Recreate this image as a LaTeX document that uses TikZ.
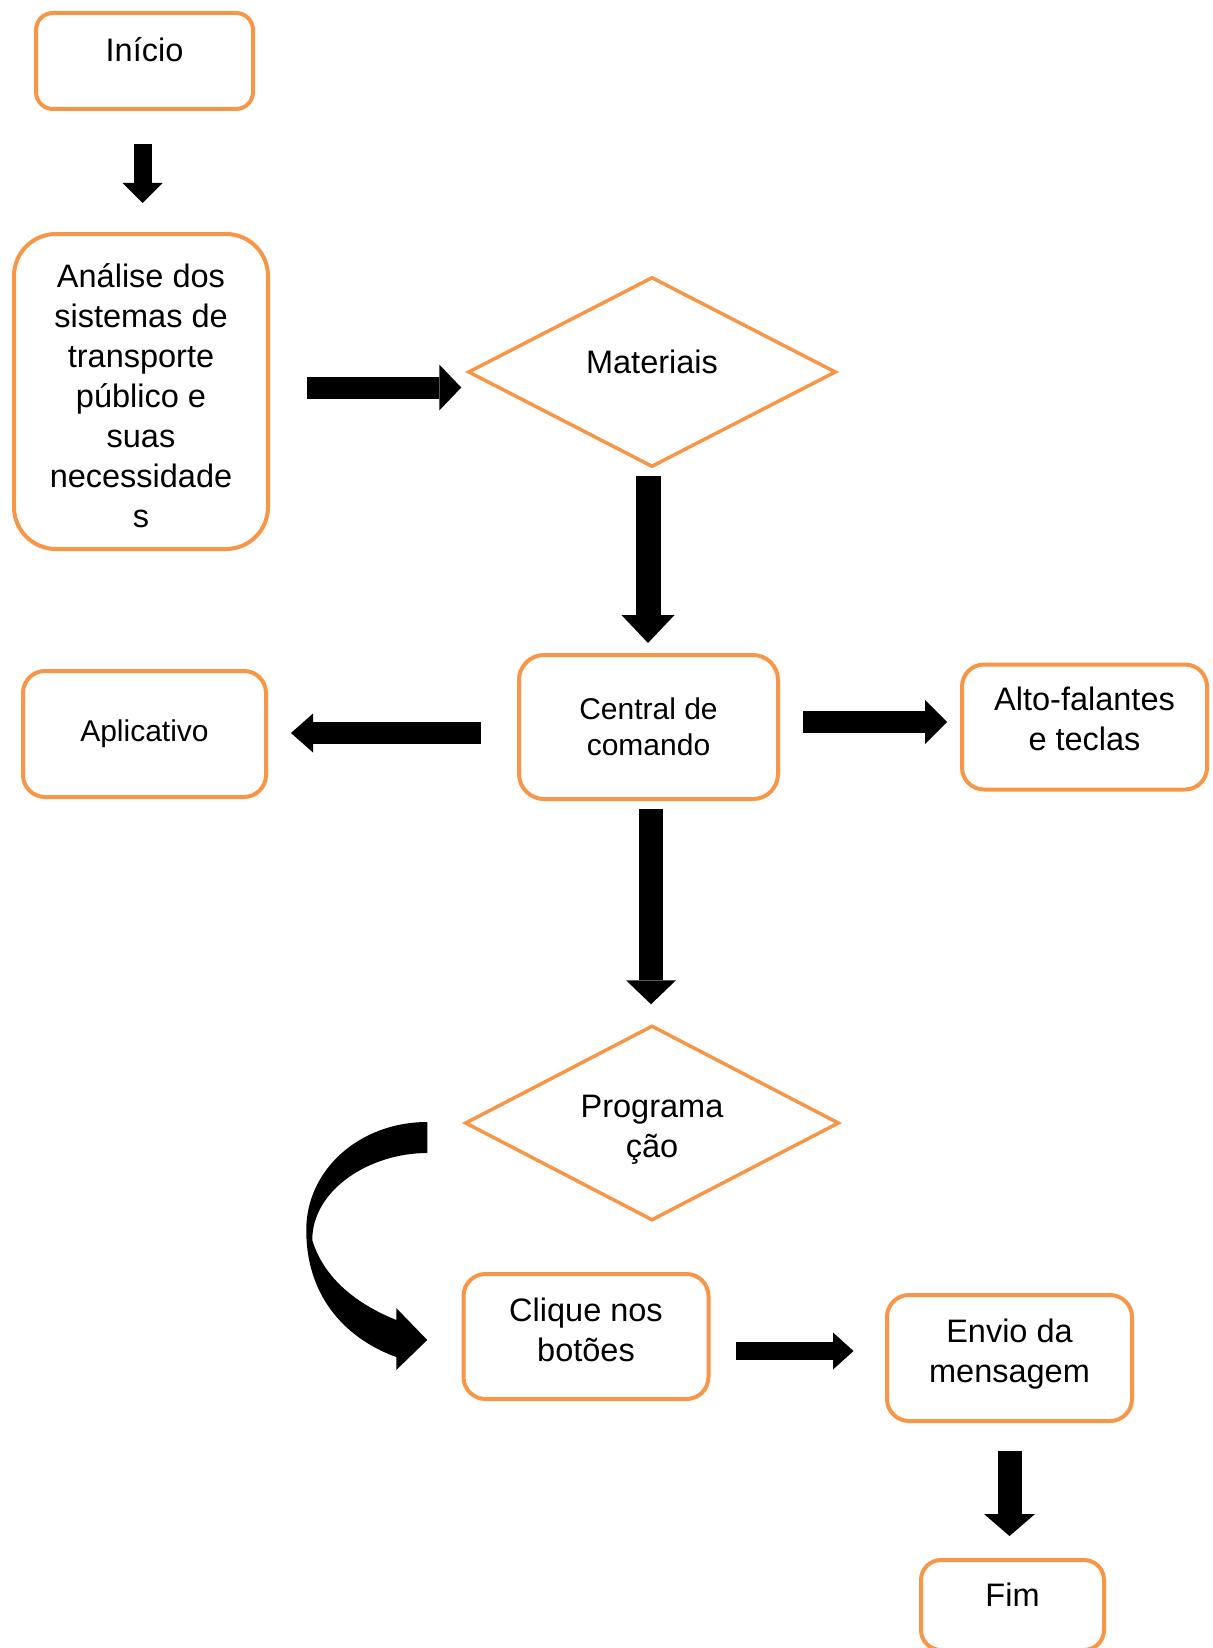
\documentclass[tikz,border=0pt]{standalone}
\usepackage{fontspec}
\setmainfont{Liberation Sans}
\usetikzlibrary{arrows.meta,shapes.geometric}
\definecolor{orng}{HTML}{F79646}
\newcommand\lowpad[1]{\rule[-#1]{0pt}{#1}}
\newcommand\toppad[1]{\rule{0pt}{#1}}
\tikzset{
  box/.style={draw=orng,line width=4pt,fill=white,align=center,inner sep=0pt,font=\fontsize{32.5}{40}\selectfont},
  dmd/.style={draw=orng,line width=3.5pt,diamond,aspect=2,fill=white,align=center,inner sep=0pt,font=\fontsize{32.5}{40}\selectfont},
  narrow/.style={font=\fontsize{30}{35.5}\selectfont},
  high/.style={text height=23.3pt,text depth=#1},
  flow/.style n args={3}{draw=black,line width=#1,-{Triangle[width=#2,length=#3,line width=0pt]}}
}

\begin{document}
\begin{tikzpicture}[x=1pt,y=-1pt]
  \useasboundingbox (0,0) rectangle (1212,1648);
  \clip (0,0) rectangle (1212,1648);
  \node[box,rounded corners=17pt,minimum width=217pt,minimum height=96pt,high=22pt] (ini) at (144.5,61) {Início};
  \node[box,rounded corners=42pt,minimum width=254pt,minimum height=315pt] (ana) at (141,391.5) {\toppad{32pt}Análise dos\\sistemas de\\transporte\\público e\\suas\\necessidade\\s};
  \node[dmd,minimum width=368pt,minimum height=190pt,high=20pt] (mat) at (652,372) {Materiais};
  \node[box,narrow,rounded corners=25pt,minimum width=259pt,minimum height=144pt] (cen) at (648.5,727) {Central de\\comando};
  \node[box,narrow,rounded corners=22pt,minimum width=243pt,minimum height=126pt] (apl) at (144.5,734) {Aplicativo};
  \node[box,rounded corners=22pt,minimum width=245pt,minimum height=125pt] (alt) at (1084.5,727) {Alto-falantes\\e teclas\lowpad{16pt}};
  \node[dmd,minimum width=374pt,minimum height=195pt] (prog) at (652,1123) {\toppad{35pt}Programa\\ção};
  \node[box,rounded corners=22pt,minimum width=245pt,minimum height=125pt] (cli) at (586,1336.5) {Clique nos\\botões\lowpad{14pt}};
  \node[box,rounded corners=22pt,minimum width=245pt,minimum height=126pt] (env) at (1009.5,1358) {Envio da\\mensagem\lowpad{15pt}};
  \node[box,rounded corners=20pt,minimum width=183pt,minimum height=90pt,high=20pt] (fim) at (1012.5,1605) {Fim};

  \draw[flow={18pt}{40pt}{20pt},shorten <=33pt,shorten >=29pt] ([xshift=-2pt]ini.south) -- ([xshift=-2pt]ini.south |- ana.north);
  \draw[flow={22pt}{46pt}{22pt},shorten <=37pt,shorten >=5pt] ([yshift=4pt]ana.east) -- ([yshift=4pt]ana.east -| mat.west);
  \draw[flow={25pt}{53pt}{28pt},shorten <=7pt,shorten >=10pt] ([xshift=-4pt]mat.south) -- ([xshift=-4pt]mat.south |- cen.north);
  \draw[flow={22pt}{39pt}{22pt},shorten <=36pt,shorten >=23pt] ([yshift=-6pt]cen.west) -- ([yshift=-6pt]cen.west -| apl.east);
  \draw[flow={22pt}{44pt}{22pt},shorten <=23pt,shorten >=13pt] ([yshift=5pt]cen.east) -- ([yshift=5pt]cen.east -| alt.west);
  \draw[flow={24pt}{50pt}{24pt},shorten <=8pt,shorten >=19.5pt] ([xshift=2.5pt]cen.south) -- ([xshift=2.5pt]cen.south |- prog.north);
  \draw[flow={18pt}{37pt}{20.5pt},shorten <=25.5pt,shorten >=31.5pt] ([yshift=-14.5pt]cli.east) -- ([yshift=-14.5pt]cli.east -| env.west);
  \draw[flow={24pt}{51pt}{22pt},shorten <=28pt,shorten >=22pt] (env.south) -- (env.south |- fim.north);
  % curved arrow from Programacao down to Clique nos botoes
  \begin{scope}[shift={(prog.west)}]
    \fill[black] (-36,-1) .. controls (-104,-1) and (-157,47) .. (-157,107)
      .. controls (-157,177) and (-114,217) .. (-67,234)
      -- (-67,247) -- (-36,217) -- (-67,185) -- (-67,197)
      .. controls (-104,182) and (-139,157) .. (-151,117)
      .. controls (-151,67) and (-94,30) .. (-36,30) -- cycle;
  \end{scope}
\end{tikzpicture}
\end{document}
